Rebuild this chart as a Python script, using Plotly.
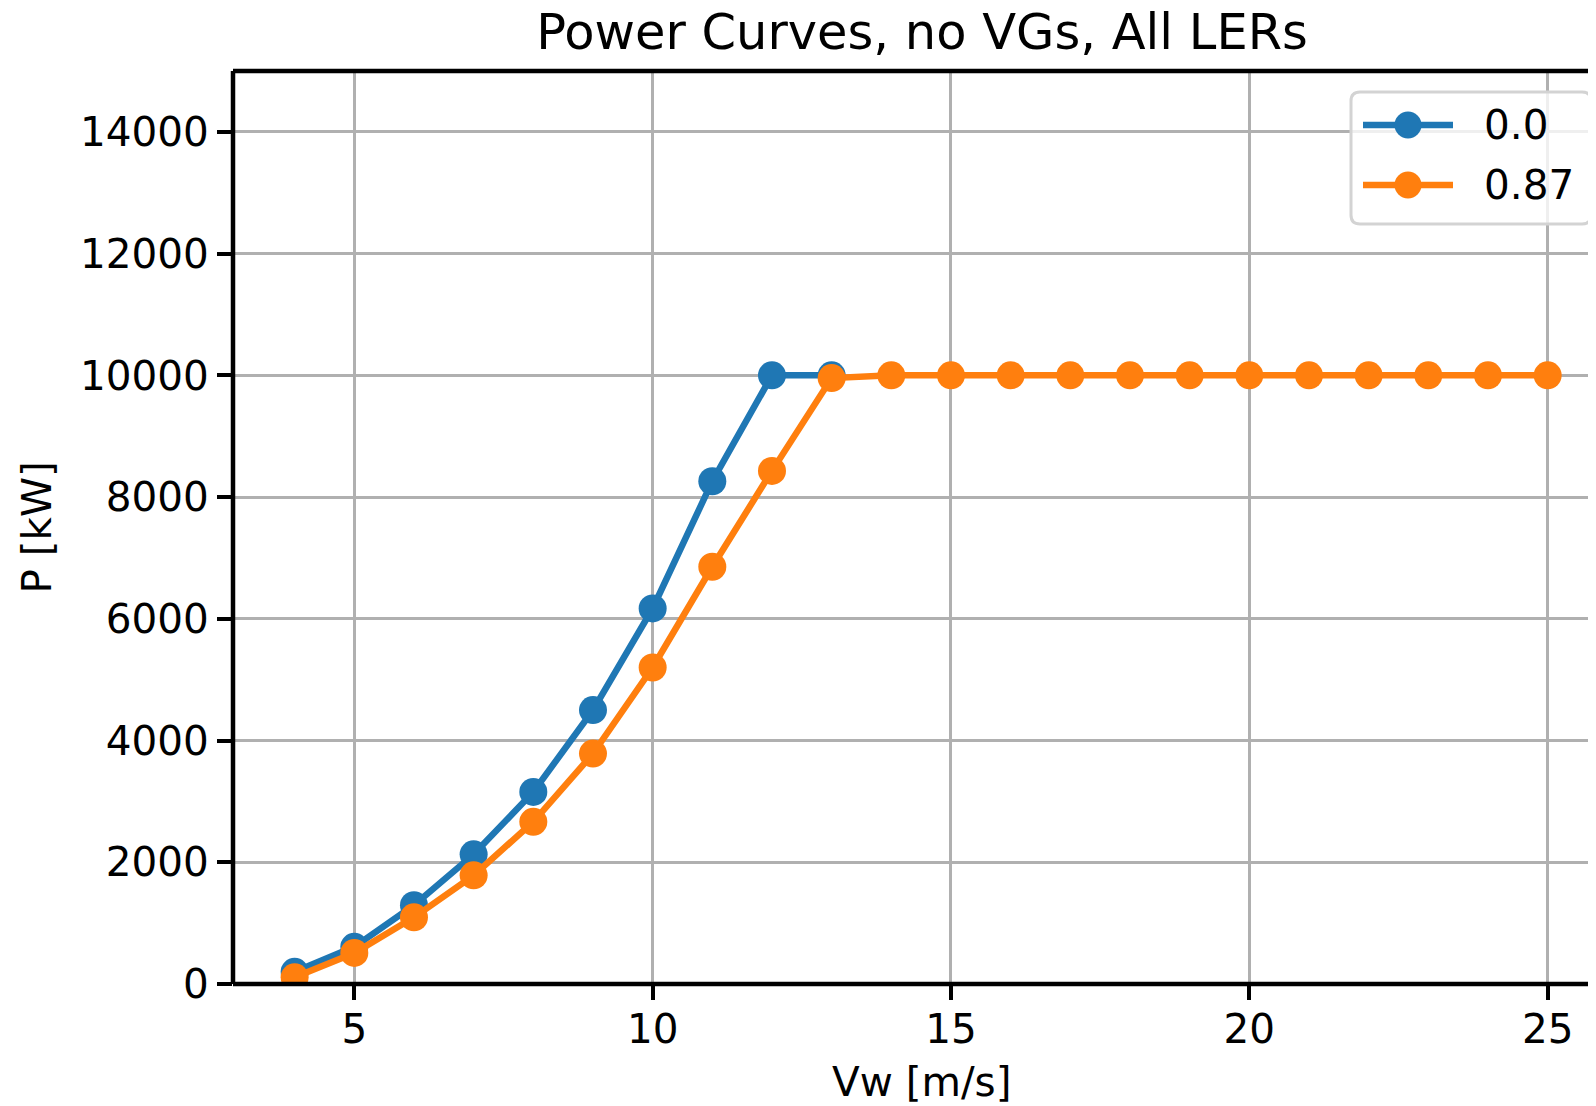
import plotly.graph_objects as go

vw_0 = [4, 5, 6, 7, 8, 9, 10, 11, 12, 13]
p_0 = [200, 610, 1295, 2130, 3155, 4500, 6170, 8260, 10000, 10000]

vw_087 = [4, 5, 6, 7, 8, 9, 10, 11, 12, 13, 14, 15, 16, 17, 18, 19, 20, 21, 22, 23, 24, 25]
p_087 = [110, 510, 1095, 1785, 2665, 3785, 5200, 6855, 8430, 9955,
         10000, 10000, 10000, 10000, 10000, 10000, 10000, 10000, 10000, 10000, 10000, 10000]

series_names = ["0.0", "0.87"]
colors = ["#1f77b4", "#ff7f0e"]

title_text = "Power Curves, no VGs, All LERs"
x_label = "Vw [m/s]"
y_label = "P [kW]"
x_ticks = [5, 10, 15, 20, 25]
y_ticks = [0, 2000, 4000, 6000, 8000, 10000, 12000, 14000]

FONT = "DejaVu Sans"
OFF = 8  # page body margin
W, H = 1596 - OFF, 1106 - OFF
L, T = 233 - OFF, 71 - OFF
B = H - (984 - OFF)
PW, PH = W - L, H - T - B


def px(x):
    """reference page pixel -> paper x"""
    return (x - OFF - L) / PW


def py(y):
    """reference page pixel -> paper y"""
    return (H - B - (y - OFF)) / PH


fig = go.Figure()
for xs, ys, name, c in [(vw_0, p_0, series_names[0], colors[0]),
                        (vw_087, p_087, series_names[1], colors[1])]:
    fig.add_trace(go.Scatter(
        x=xs, y=ys, name=name, mode="lines+markers",
        line=dict(color=c, width=6.5),
        marker=dict(color=c, size=28),
        showlegend=False,
    ))

axis_common = dict(
    showline=False,
    ticks="outside", ticklen=15, tickwidth=4, tickcolor="black",
    showgrid=True, gridcolor="#b0b0b0", gridwidth=3.3,
    zeroline=False, automargin=False,
    tickfont=dict(family=FONT, size=40.5, color="black"),
    tickformat="d",
)

fig.update_xaxes(range=[2.967, 25.81], tickvals=x_ticks,
                 ticklabelstandoff=-6, **axis_common)
fig.update_yaxes(range=[0, 15000], tickvals=y_ticks, **axis_common)

# spines centred on the plot-area edges (matplotlib style)
spine = dict(color="black", width=4.5)
shapes = [
    dict(type="line", xref="paper", yref="paper", x0=0, x1=1, y0=0, y1=0, line=spine, layer="above"),
    dict(type="line", xref="paper", yref="paper", x0=0, x1=1, y0=1, y1=1, line=spine, layer="above"),
    dict(type="line", xref="paper", yref="paper", x0=0, x1=0, y0=0, y1=1, line=spine, layer="above"),
]

# legend (drawn as shapes + text, matplotlib style)
bx0, bx1, by0, by1, r = 1351, 1591, 92, 224, 9
rect_path = (
    f"M {px(bx0 + r)},{py(by0)} L {px(bx1 - r)},{py(by0)} "
    f"Q {px(bx1)},{py(by0)} {px(bx1)},{py(by0 + r)} "
    f"L {px(bx1)},{py(by1 - r)} Q {px(bx1)},{py(by1)} {px(bx1 - r)},{py(by1)} "
    f"L {px(bx0 + r)},{py(by1)} Q {px(bx0)},{py(by1)} {px(bx0)},{py(by1 - r)} "
    f"L {px(bx0)},{py(by0 + r)} Q {px(bx0)},{py(by0)} {px(bx0 + r)},{py(by0)} Z"
)
shapes.append(dict(type="path", path=rect_path, xref="paper", yref="paper",
                   fillcolor="rgba(255,255,255,0.8)", line=dict(color="#d3d3d3", width=3),
                   layer="above"))
annotations = []
row_y = [125, 185]
for name, c, yy in zip(series_names, colors, row_y):
    shapes.append(dict(type="line", xref="paper", yref="paper",
                       x0=px(1363), x1=px(1453), y0=py(yy), y1=py(yy),
                       line=dict(color=c, width=6.5), layer="above"))
    rad = 13.5
    shapes.append(dict(type="circle", xref="paper", yref="paper",
                       x0=px(1408 - rad), x1=px(1408 + rad),
                       y0=py(yy + rad), y1=py(yy - rad),
                       fillcolor=c, line=dict(color=c, width=0), layer="above"))
    annotations.append(dict(text=name, xref="paper", yref="paper",
                            x=px(1482), y=py(yy), xanchor="left", yanchor="middle",
                            showarrow=False,
                            font=dict(family=FONT, size=40.5, color="black")))

annotations += [
    dict(text=x_label, xref="paper", yref="paper",
         x=px(922), y=py(1082),
         xanchor="center", yanchor="middle", showarrow=False,
         font=dict(family=FONT, size=40.5, color="black")),
    dict(text=y_label, xref="paper", yref="paper",
         x=px(36), y=0.5, textangle=-90,
         xanchor="center", yanchor="middle", showarrow=False,
         font=dict(family=FONT, size=40.5, color="black")),
]

fig.update_layout(
    width=W, height=H,
    margin=dict(l=L, r=0, t=T, b=B, pad=0, autoexpand=False),
    plot_bgcolor="white", paper_bgcolor="white",
    font=dict(family=FONT, color="black"),
    title=dict(text=title_text, x=(922 - OFF) / W, xref="container", xanchor="center",
               y=1 - (32 - OFF) / H, yref="container", yanchor="middle", automargin=False,
               font=dict(family=FONT, size=49.5, color="black")),
    showlegend=False,
    shapes=shapes,
    annotations=annotations,
)

fig.write_html("out.html")
